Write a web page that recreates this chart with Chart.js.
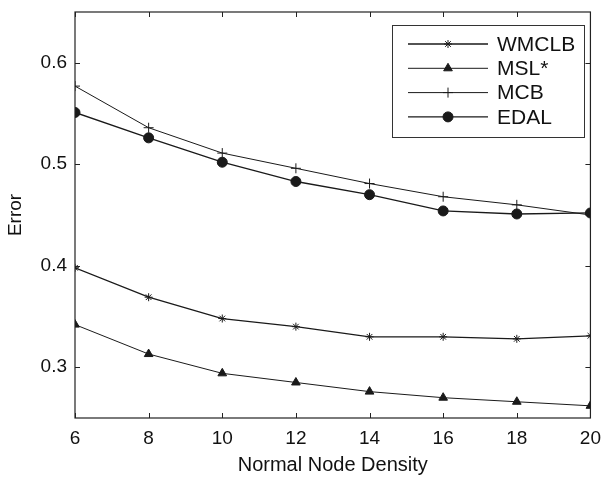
<!DOCTYPE html>
<html>
<head>
<meta charset="utf-8">
<script src="https://cdn.jsdelivr.net/npm/chart.js@4.4.0/dist/chart.umd.min.js"></script>
<style>
  html, body { margin: 0; padding: 0; background: #fff; }
  #wrap { width: 610px; height: 477px; }
</style>
</head>
<body>
<div id="wrap"><canvas id="errChart" width="610" height="477"></canvas></div>
<script>
const density = [6, 8, 10, 12, 14, 16, 18, 20];
const wmclb = [0.398, 0.369, 0.348, 0.340, 0.330, 0.330, 0.328, 0.331];
const mslStar = [0.342, 0.313, 0.294, 0.285, 0.276, 0.270, 0.266, 0.262];
const mcb = [0.577, 0.536, 0.511, 0.496, 0.481, 0.468, 0.460, 0.450];
const edal = [0.551, 0.526, 0.502, 0.483, 0.470, 0.454, 0.451, 0.452];
const xTicks = [6, 8, 10, 12, 14, 16, 18, 20];
const yTicks = [0.3, 0.4, 0.5, 0.6];

const FONT = '"Liberation Sans", Arial, sans-serif';
const INK = '#1a1a1a';

const toPoints = (values) => values.map((v, i) => ({ x: density[i], y: v }));

function series(label, values, style, radius, width) {
  return {
    label,
    data: toPoints(values),
    borderColor: INK,
    backgroundColor: INK,
    borderWidth: width,
    pointStyle: style,
    pointRadius: radius,
    pointBorderWidth: 1,
    pointBorderColor: INK,
    pointBackgroundColor: INK,
    tension: 0,
  };
}

// box + inward ticks, MATLAB style
const boxPlugin = {
  id: 'boxPlugin',
  afterDraw(chart) {
    const { ctx, chartArea: a, scales } = chart;
    ctx.save();
    ctx.strokeStyle = '#222';
    ctx.lineWidth = 1.2;
    ctx.strokeRect(a.left, a.top, a.right - a.left, a.bottom - a.top);
    ctx.lineWidth = 1;
    const len = 5;
    xTicks.forEach((t) => {
      const px = Math.round(scales.x.getPixelForValue(t)) + 0.5;
      ctx.beginPath();
      ctx.moveTo(px, a.bottom); ctx.lineTo(px, a.bottom - len);
      ctx.moveTo(px, a.top); ctx.lineTo(px, a.top + len);
      ctx.stroke();
    });
    yTicks.forEach((t) => {
      const py = Math.round(scales.y.getPixelForValue(t)) + 0.5;
      ctx.beginPath();
      ctx.moveTo(a.left, py); ctx.lineTo(a.left + len, py);
      ctx.moveTo(a.right, py); ctx.lineTo(a.right - len, py);
      ctx.stroke();
    });
    ctx.restore();
  },
};

// legend box inside the plot, top right
const legendPlugin = {
  id: 'legendPlugin',
  afterDraw(chart) {
    const { ctx } = chart;
    const box = { x: 392, y: 25, w: 192, h: 112 };
    ctx.save();
    ctx.fillStyle = '#fff';
    ctx.fillRect(box.x, box.y, box.w, box.h);
    ctx.strokeStyle = '#333';
    ctx.lineWidth = 1;
    ctx.strokeRect(box.x + 0.5, box.y + 0.5, box.w, box.h);
    ctx.font = '21px ' + FONT;
    ctx.textBaseline = 'middle';
    chart.data.datasets.forEach((ds, i) => {
      const y = 44 + i * 24.3;
      ctx.strokeStyle = INK;
      ctx.lineWidth = ds.borderWidth;
      ctx.beginPath();
      ctx.moveTo(408, y); ctx.lineTo(488, y);
      ctx.stroke();
      ctx.fillStyle = INK;
      ctx.lineWidth = 1;
      Chart.helpers.drawPoint(ctx, { pointStyle: ds.pointStyle, radius: ds.pointRadius, borderWidth: 1 }, 448, y);
      ctx.fillStyle = '#111';
      ctx.fillText(ds.label, 497, y + 1);
    });
    ctx.restore();
  },
};

new Chart(document.getElementById('errChart'), {
  type: 'line',
  data: {
    datasets: [
      series('WMCLB', wmclb, 'star', 4, 1.3),
      series('MSL*', mslStar, 'triangle', 5, 1),
      series('MCB', mcb, 'cross', 5, 1),
      series('EDAL', edal, 'circle', 5, 1.3),
    ],
  },
  options: {
    responsive: false,
    animation: false,
    layout: { padding: { top: 12, right: 12, left: 0, bottom: 0 } },
    plugins: {
      legend: { display: false },
      tooltip: { enabled: false },
    },
    scales: {
      x: {
        type: 'linear',
        min: 6,
        max: 20,
        afterBuildTicks: (s) => { s.ticks = xTicks.map((v) => ({ value: v })); },
        afterFit: (s) => { s.height = 59; },
        grid: { display: false, drawTicks: false },
        border: { display: false },
        ticks: { color: '#111', font: { family: FONT, size: 19 }, padding: 9, maxRotation: 0 },
        title: {
          display: true,
          text: 'Normal Node Density',
          color: '#111',
          font: { family: FONT, size: 20 },
          padding: { top: 2, bottom: 0 },
        },
      },
      y: {
        min: 0.25,
        max: 0.65,
        afterBuildTicks: (s) => { s.ticks = yTicks.map((v) => ({ value: v })); },
        afterFit: (s) => { s.width = 75; s.paddingTop = 0; s.paddingBottom = 0; },
        grid: { display: false, drawTicks: false },
        border: { display: false },
        ticks: {
          color: '#111',
          font: { family: FONT, size: 19 },
          padding: 8,
          callback: (v) => v.toFixed(1),
        },
        title: {
          display: true,
          text: 'Error',
          color: '#111',
          font: { family: FONT, size: 19 },
          padding: { top: 4, bottom: 0 },
        },
      },
    },
  },
  plugins: [boxPlugin, legendPlugin],
});
</script>
</body>
</html>
